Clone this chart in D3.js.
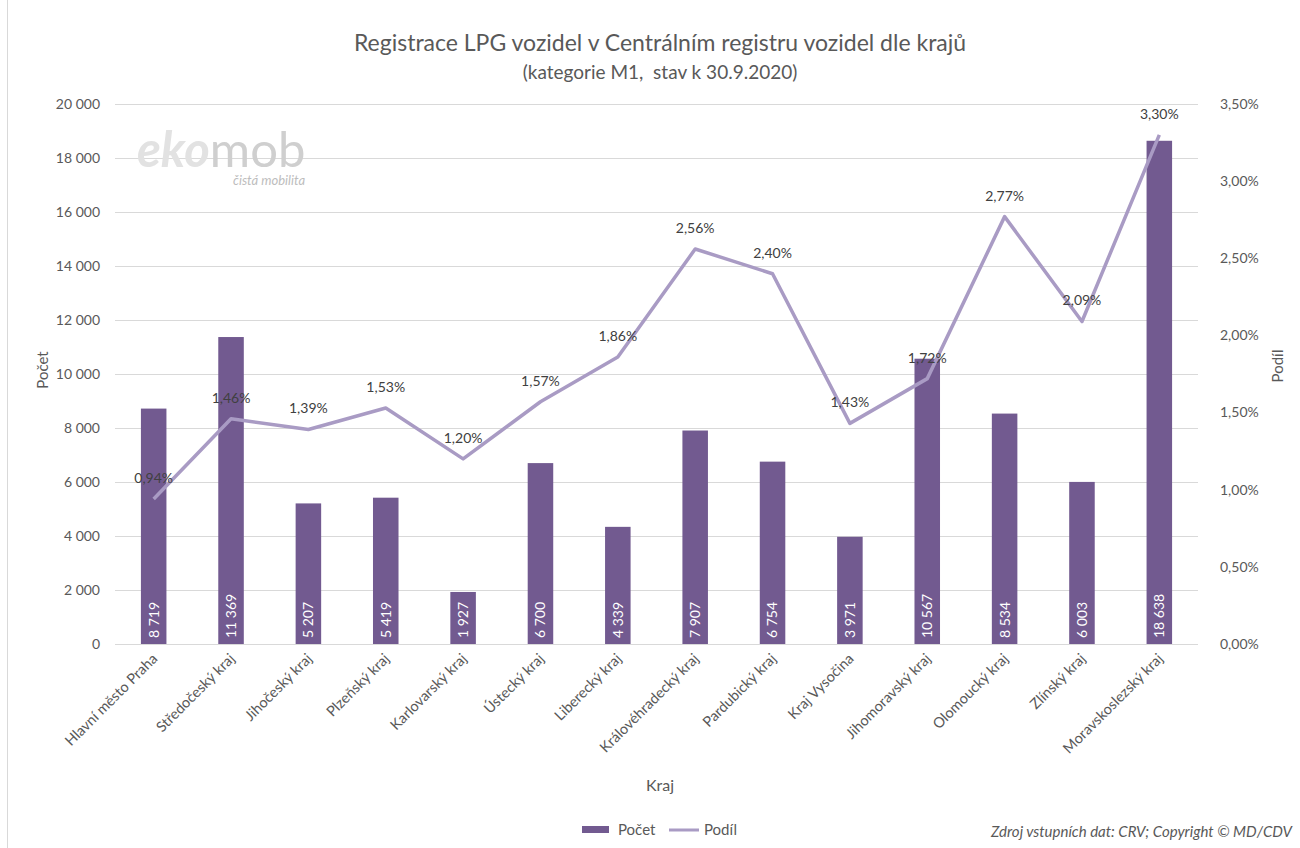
<!DOCTYPE html>
<html>
<head>
<meta charset="utf-8">
<script src="https://cdn.jsdelivr.net/npm/d3@7"></script>
<style>
  body { margin: 0; background: #fff; }
  text { font-family: Lato, "Open Sans", sans-serif; }
</style>
</head>
<body>
<script>
// LPG registrace podle krajů
var kraje = ["Hlavní město Praha", "Středočeský kraj", "Jihočeský kraj", "Plzeňský kraj",
  "Karlovarský kraj", "Ústecký kraj", "Liberecký kraj", "Královéhradecký kraj",
  "Pardubický kraj", "Kraj Vysočina", "Jihomoravský kraj", "Olomoucký kraj",
  "Zlínský kraj", "Moravskoslezský kraj"];
var pocet = [8719, 11369, 5207, 5419, 1927, 6700, 4339, 7907, 6754, 3971, 10567, 8534, 6003, 18638];
var podil = [0.94, 1.46, 1.39, 1.53, 1.20, 1.57, 1.86, 2.56, 2.40, 1.43, 1.72, 2.77, 2.09, 3.30];
var leftTicks = [0, 2000, 4000, 6000, 8000, 10000, 12000, 14000, 16000, 18000, 20000];
var rightTicks = [0, 0.5, 1, 1.5, 2, 2.5, 3, 3.5];

var width = 1300, height = 848;
var margin = {top: 104, right: 102, bottom: 204, left: 115};

var svg = d3.select("body").append("svg")
  .attr("width", width)
  .attr("height", height);

// frame
svg.append("rect")
  .attr("x", 7.5).attr("y", -1).attr("width", width).attr("height", height + 2)
  .attr("fill", "none").attr("stroke", "#d9d9d9");

var g = svg.append("g")
  .attr("transform", "translate(" + margin.left + "," + margin.top + ")");

var w = width - margin.left - margin.right;
var h = height - margin.top - margin.bottom;

var x = d3.scaleBand().domain(kraje).range([0, w]).paddingInner(0.67).paddingOuter(0.335);
var y = d3.scaleLinear().domain([0, 20000]).range([h, 0]);
var y2 = d3.scaleLinear().domain([0, 3.5]).range([h, 0]);

var fmtNum = function(d) { return d3.format(",")(d).replace(/,/g, " "); };
var fmtPct = function(d) { return d.toFixed(2).replace(".", ",") + "%"; };

// gridlines
g.selectAll(".grid").data(leftTicks).enter().append("line")
  .attr("x1", 0).attr("x2", w)
  .attr("y1", function(d) { return y(d) + 0.5; })
  .attr("y2", function(d) { return y(d) + 0.5; })
  .attr("stroke", "#d9d9d9").attr("stroke-width", 1);

// logo
var logo = g.append("g").attr("transform", "translate(22,63)");
var lt = logo.append("text").attr("x", 0).attr("y", 0)
  .style("font-size", "49px").style("font-style", "italic").style("font-weight", "700")
  .style("letter-spacing", "0px");
lt.append("tspan").attr("fill", "#e2e2e2").text("eko");
lt.append("tspan").attr("fill", "#cfcfcf").style("font-style", "normal").style("font-weight", "400").text("mob");
logo.append("text").attr("x", 96).attr("y", 18)
  .style("font-size", "13px").style("font-style", "italic")
  .attr("fill", "#bdbdbd").text("čistá mobilita");

// left axis
g.selectAll(".ltick").data(leftTicks).enter().append("text")
  .attr("x", -15).attr("y", function(d) { return y(d); })
  .attr("dy", "0.35em").attr("text-anchor", "end")
  .style("font-size", "14px").attr("fill", "#595959")
  .text(fmtNum);

// right axis
g.selectAll(".rtick").data(rightTicks).enter().append("text")
  .attr("x", w + 22).attr("y", function(d) { return y2(d); })
  .attr("dy", "0.35em").attr("text-anchor", "start")
  .style("font-size", "14px").attr("fill", "#595959")
  .text(fmtPct);

// bars
g.selectAll(".bar").data(pocet).enter().append("rect")
  .attr("x", function(d, i) { return x(kraje[i]); })
  .attr("y", function(d) { return y(d); })
  .attr("width", x.bandwidth())
  .attr("height", function(d) { return h - y(d); })
  .attr("fill", "#725a90");

// bar labels
g.selectAll(".blab").data(pocet).enter().append("text")
  .attr("transform", function(d, i) {
    return "translate(" + (x(kraje[i]) + x.bandwidth() / 2) + "," + (h - 6) + ") rotate(-90)";
  })
  .attr("dy", "0.35em")
  .style("font-size", "14px").attr("fill", "#ffffff")
  .text(fmtNum);

// line
var line = d3.line()
  .x(function(d, i) { return x(kraje[i]) + x.bandwidth() / 2; })
  .y(function(d) { return y2(d); });

g.append("path").datum(podil)
  .attr("fill", "none")
  .attr("stroke", "#a99bc4")
  .attr("stroke-width", 3.5)
  .attr("stroke-linejoin", "round")
  .attr("d", line);

g.selectAll(".plab").data(podil).enter().append("text")
  .attr("x", function(d, i) { return x(kraje[i]) + x.bandwidth() / 2; })
  .attr("y", function(d) { return y2(d) - 21; })
  .attr("dy", "0.35em").attr("text-anchor", "middle")
  .style("font-size", "14px").attr("fill", "#404040")
  .text(fmtPct);

// x labels
g.selectAll(".xlab").data(kraje).enter().append("text")
  .attr("transform", function(d) {
    return "translate(" + (x(d) + x.bandwidth() / 2 + 1) + "," + (h + 12) + ") rotate(-45)";
  })
  .attr("text-anchor", "end")
  .attr("dy", "0.35em")
  .style("font-size", "14.5px").attr("fill", "#595959")
  .text(function(d) { return d; });

// axis titles
g.append("text")
  .attr("transform", "translate(-72," + (h / 2 - 4) + ") rotate(-90)")
  .attr("text-anchor", "middle").attr("dy", "0.35em")
  .style("font-size", "15px").attr("fill", "#595959").text("Počet");

g.append("text")
  .attr("transform", "translate(" + (w + 80) + "," + (h / 2 - 8) + ") rotate(-90)")
  .attr("text-anchor", "middle").attr("dy", "0.35em")
  .style("font-size", "15px").attr("fill", "#595959").text("Podíl");

svg.append("text")
  .attr("x", 660).attr("y", 785)
  .attr("text-anchor", "middle").attr("dy", "0.35em")
  .style("font-size", "16px").attr("fill", "#595959").text("Kraj");

// title
svg.append("text")
  .attr("x", 660).attr("y", 51)
  .attr("text-anchor", "middle")
  .style("font-size", "23px").attr("fill", "#595959")
  .text("Registrace LPG vozidel v Centrálním registru vozidel dle krajů");
svg.append("text")
  .attr("x", 660).attr("y", 79)
  .attr("text-anchor", "middle")
  .style("font-size", "19px").style("white-space", "pre").attr("fill", "#595959")
  .text("(kategorie M1,  stav k 30.9.2020)");

// legend
var lg = svg.append("g").attr("transform", "translate(582,830)");
lg.append("rect").attr("x", 0).attr("y", -4).attr("width", 27).attr("height", 7).attr("fill", "#725a90");
lg.append("text").attr("x", 36).attr("y", 0).attr("dy", "0.35em")
  .style("font-size", "15px").attr("fill", "#595959").text("Počet");
lg.append("line").attr("x1", 87).attr("x2", 117).attr("y1", 0).attr("y2", 0)
  .attr("stroke", "#a99bc4").attr("stroke-width", 3);
lg.append("text").attr("x", 122).attr("y", 0).attr("dy", "0.35em")
  .style("font-size", "15px").attr("fill", "#595959").text("Podíl");

// source
svg.append("text")
  .attr("x", 1292).attr("y", 837)
  .attr("text-anchor", "end")
  .style("font-size", "15px").style("font-style", "italic").attr("fill", "#595959")
  .text("Zdroj vstupních dat: CRV; Copyright © MD/CDV");
</script>
</body>
</html>
